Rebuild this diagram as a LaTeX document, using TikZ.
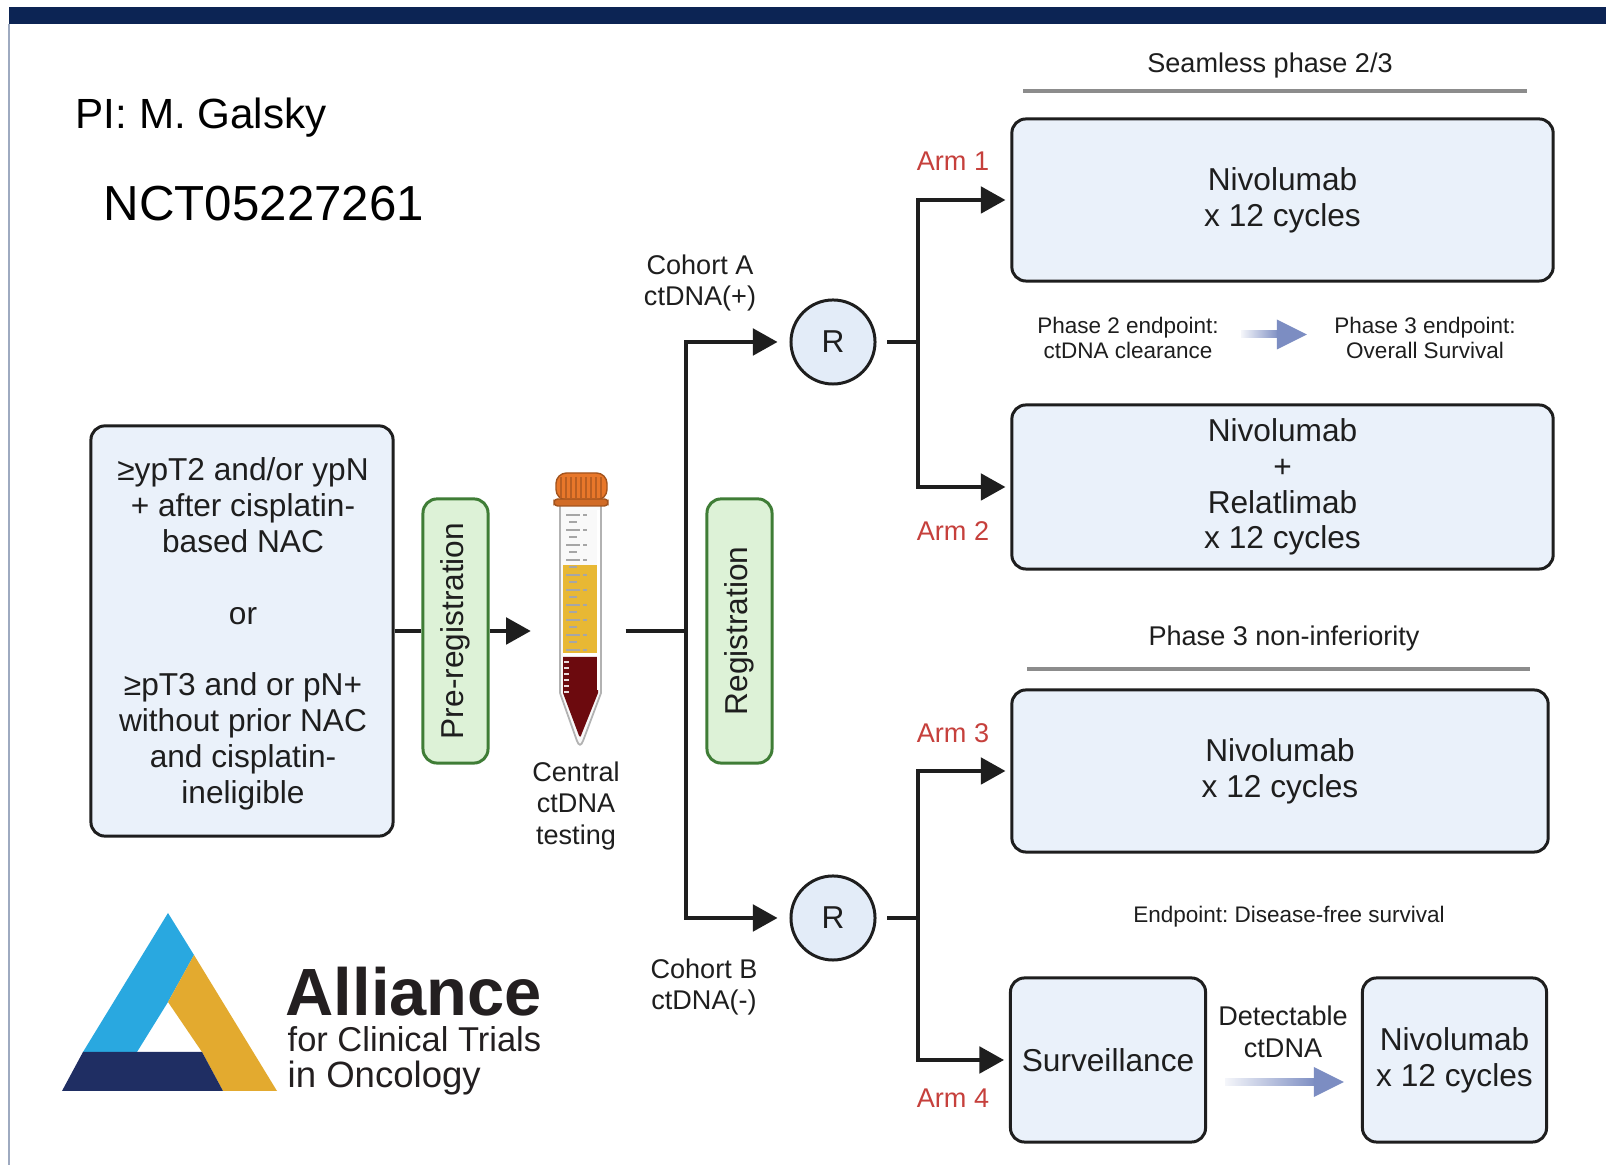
\documentclass[tikz,border=0pt]{standalone}
\usepackage{fontspec}
\setmainfont{Liberation Sans}
\usepackage{graphicx}
\usetikzlibrary{arrows.meta,positioning,calc}

\definecolor{barnavy}{HTML}{0C2454}
\definecolor{framegray}{HTML}{9EAAC0}
\definecolor{boxblue}{HTML}{EAF1FA}
\definecolor{rblue}{HTML}{E3ECF8}
\definecolor{regfill}{HTML}{DDF2D7}
\definecolor{regline}{HTML}{3F7D36}
\definecolor{armred}{HTML}{C6403C}
\definecolor{inkgray}{HTML}{1E1E1E}
\definecolor{rulegray}{HTML}{8C8C8C}
\definecolor{endptc}{HTML}{7C8DC2}
\definecolor{tubeorange}{HTML}{E8772A}
\definecolor{plasma}{HTML}{E8B834}
\definecolor{blood}{HTML}{6C0A0E}
\definecolor{logoblue}{HTML}{29A8E0}
\definecolor{logogold}{HTML}{E3AA2F}
\definecolor{logonavy}{HTML}{1F2E63}
\definecolor{logoink}{HTML}{231F20}

\tikzset{
  armbox/.style={draw=inkgray, line width=0.85pt, fill=boxblue, rounded corners=4pt,
    align=center, inner sep=2pt, text=inkgray, font=\fontsize{9}{10.2}\selectfont},
  regbox/.style={draw=regline, line width=0.85pt, fill=regfill, rounded corners=4pt,
    minimum width=0.65cm, minimum height=2.64cm, inner sep=0pt, text=inkgray,
    font=\fontsize{9}{10.2}\selectfont},
  rcircle/.style={circle, draw=inkgray, line width=0.85pt, fill=rblue, minimum size=0.84cm,
    inner sep=0pt, text=inkgray, font=\fontsize{9}{10}\selectfont},
  conn/.style={draw=inkgray, line width=1.15pt},
  arr/.style={conn, -{Triangle[length=7pt,width=7.5pt]}},
  armlbl/.style={text=armred, font=\fontsize{7.7}{9}\selectfont},
  lbl/.style={align=center, text=inkgray, font=\fontsize{7.7}{9}\selectfont},
  endpt/.style={align=center, text=inkgray, font=\fontsize{6.4}{7.1}\selectfont},
}

% soft arrow: shaft fades in from the left, solid head at #2
\newcommand{\fadearrow}[2]{%
  \shade[left color=endptc!8, right color=endptc] ($(#1)+(0,-3.5)$) rectangle ($(#2)+(-28,3.5)$);
  \fill[endptc] ($(#2)+(-30,-15)$) -- (#2) -- ($(#2)+(-30,15)$) -- cycle;}

\begin{document}
\frenchspacing
\begin{tikzpicture}[x=0.01cm, y=-0.01cm]
  \useasboundingbox (0,0) rectangle (1606,1165);
  \fill[white] (0,0) rectangle (1606,1165);

  % header strip and frame
  \fill[barnavy] (9,7) rectangle (1606,24);
  \draw[framegray, line width=0.6pt] (9,24) -- (9,1165);

  % study id
  \node[anchor=base west, inner sep=0, font=\fontsize{12}{12}\selectfont] (pi) at (75,129) {PI: M. Galsky};
  \node[anchor=base west, inner sep=0, font=\fontsize{14}{14}\selectfont] (nct) at (103,221) {NCT05227261};

  % eligibility and pre-registration
  \node[armbox, minimum width=3.02cm, minimum height=4.1cm] (elig) at (242,631) {};
  \node[align=center, text=inkgray, font=\fontsize{9}{10.2}\selectfont] (eligtxt) at (243,634)
    {≥ypT2 and/or ypN\\+ after cisplatin-\\based NAC\\[10.2pt]or\\[10.2pt]≥pT3 and or pN+\\without prior NAC\\and cisplatin-\\ineligible};
  \node[regbox] (prereg) at (455.5,631) {\rotatebox{90}{Pre-registration}};

  % blood tube
  \node[minimum width=0.9cm, minimum height=2.8cm, inner sep=0] (tube) at (580,607) {};
  \draw[fill=gray!5, draw=gray!60, line width=0.5pt] (560,504) -- (560,693) -- (577,741)
    .. controls (579,746) and (581,746) .. (583,741) -- (601,693) -- (601,504) -- cycle;
  \fill[plasma] (563,565) rectangle (598,653);
  \fill[white] (563,653) rectangle (598,657);
  \fill[blood] (563,657) -- (563,693) -- (578,733) .. controls (579.5,738) and (580.5,738) .. (582,733)
    -- (598,693) -- (598,657) -- cycle;
  \draw[white, line width=0.8pt] (598.5,510) -- (598.5,690);
  \foreach \ty in {515,530,...,650}
    \draw[gray!70, line width=0.4pt] (566,\ty) -- (580,\ty) (583,\ty) -- (587,\ty);
  \foreach \ty in {522,537,...,645}
    \draw[gray!70, line width=0.4pt] (569,\ty) -- (577,\ty);
  \foreach \ty in {662,668,...,692}
    \draw[white!85!blood, line width=0.5pt] (564,\ty) -- (569,\ty);
  \draw[fill=tubeorange, draw=tubeorange!70!black, line width=0.4pt, rounded corners=3pt] (556,473) rectangle (607,500);
  \foreach \cx in {561,566,...,602}
    \draw[tubeorange!80!black, line width=0.5pt] (\cx,477) -- (\cx,498);
  \draw[fill=tubeorange!90!black, draw=tubeorange!70!black, line width=0.4pt, rounded corners=1pt] (554,499) rectangle (608,506);
  \node[lbl] (central) at (576,806) {Central\\ctDNA\\testing};

  % registration and randomisation
  \node[regbox] (reg) at (739.5,631) {\rotatebox{90}{Registration}};
  \coordinate (split) at (686,631);
  \node[rcircle] (r1) at (833,342) {R};
  \node[rcircle] (r2) at (833,918) {R};
  \node[lbl] (cohA) at (700,283) {Cohort A\\ctDNA(+)};
  \node[lbl] (cohB) at (704,987) {Cohort B\\ctDNA(-)};

  % treatment arms
  \node[lbl] (seam) at (1270,66) {Seamless phase 2/3};
  \draw[rulegray, line width=1.1pt] (1023,91) -- (1527,91);
  \node[armbox, minimum width=5.41cm, minimum height=1.62cm] (arm1) at (1282.5,200) {Nivolumab\\x 12 cycles};
  \node[armbox, minimum width=5.41cm, minimum height=1.64cm] (arm2) at (1282.5,487) {Nivolumab\\+\\Relatlimab\\x 12 cycles};
  \node[endpt] (ep2) at (1128,337.5) {Phase 2 endpoint:\\ctDNA clearance};
  \node[endpt] (ep3) at (1425,337.5) {Phase 3 endpoint:\\Overall Survival};

  \node[lbl] (noninf) at (1284,639) {Phase 3 non-inferiority};
  \draw[rulegray, line width=1.1pt] (1027,669) -- (1530,669);
  \node[armbox, minimum width=5.36cm, minimum height=1.62cm] (arm3) at (1280,771) {Nivolumab\\x 12 cycles};
  \node[endpt] (dfs) at (1289,917) {Endpoint: Disease-free survival};
  \node[armbox, minimum width=1.95cm, minimum height=1.64cm] (surv) at (1108,1060) {Surveillance};
  \node[armbox, minimum width=1.84cm, minimum height=1.64cm] (nivo) at (1454.5,1060) {Nivolumab\\x 12 cycles};
  \node[lbl] (detect) at (1283,1032) {Detectable\\ctDNA};

  \node[armlbl] (a1) at (953,161) {Arm 1};
  \node[armlbl] (a2) at (953,531) {Arm 2};
  \node[armlbl] (a3) at (953,733) {Arm 3};
  \node[armlbl] (a4) at (953,1098) {Arm 4};

  % flow
  \draw[conn] (elig.east) -- (prereg.west);
  \draw[arr, shorten >=1pt] (prereg.east) -- (prereg.east -| tube.west);
  \draw[conn] (split -| tube.east) -- (split);
  \draw[arr, shorten >=3.4pt] (split) |- (r1);
  \draw[arr, shorten >=3.4pt] (split) |- (r2);
  \coordinate (split1) at (918,342);
  \coordinate (split2) at (918,918);
  \draw[conn, shorten <=3pt] (r1) -- (split1);
  \draw[conn, shorten <=3pt] (r2) -- (split2);
  \draw[arr, shorten >=1.4pt] (split1) |- (arm1);
  \draw[arr, shorten >=1.4pt] (split1) |- (arm2);
  \draw[arr, shorten >=1.4pt] (split2) |- (arm3);
  \draw[arr, shorten >=1.4pt] (split2) |- (surv);

  \coordinate (ep2a) at ($(ep2.east)+(10,-3)$);
  \coordinate (ep2b) at ($(ep3.west)+(-15,-3)$);
  \fadearrow{ep2a}{ep2b}
  \coordinate (dta) at ($(surv.east)+(18,22)$);
  \coordinate (dtb) at ($(nivo.west)+(-17,22)$);
  \fadearrow{dta}{dtb}

  % alliance logo
  \fill[logoblue] (168,913) -- (83,1052) -- (137,1052) -- (168,1002) -- (194,955) -- cycle;
  \fill[logogold] (194,955) -- (277,1091) -- (223,1091) -- (202,1052) -- (168,1002) -- cycle;
  \fill[logonavy] (62,1091) -- (83,1052) -- (202,1052) -- (223,1091) -- cycle;
  \node[anchor=base west, inner sep=0, text=logoink, font=\fontsize{19}{19}\selectfont\bfseries] (alli) at (285,1016) {Alliance};
  \node[anchor=base west, inner sep=0, text=logoink, font=\fontsize{9.8}{10}\selectfont] (acti) at (287,1052) {for Clinical Trials};
  \node[anchor=base west, inner sep=0, text=logoink, font=\fontsize{10.4}{10}\selectfont] (aonc) at (287,1088) {in Oncology};
\end{tikzpicture}
\end{document}
